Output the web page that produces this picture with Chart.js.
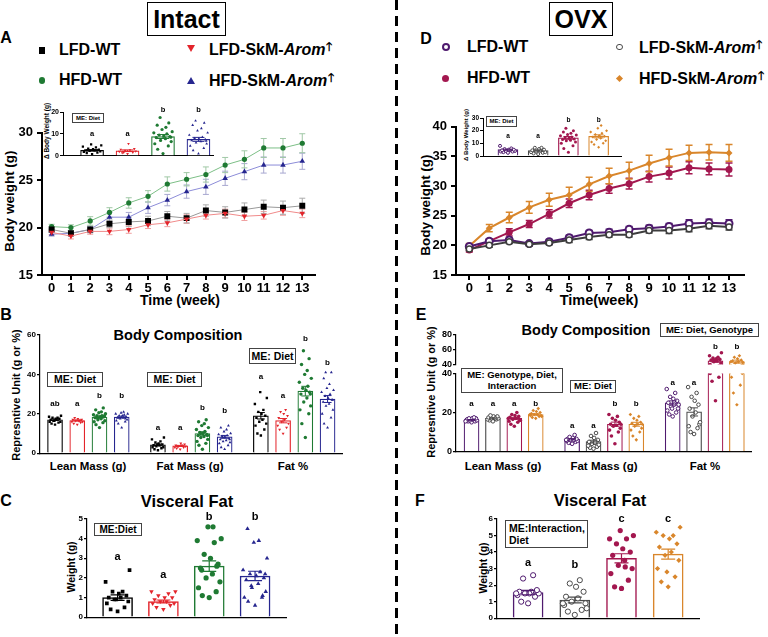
<!DOCTYPE html>
<html>
<head>
<meta charset="utf-8">
<script src="https://cdn.jsdelivr.net/npm/chart.js@4.4.1/dist/chart.umd.min.js"></script>
<style>
body{margin:0;width:768px;height:637px;position:relative;background:#fff;overflow:hidden;
  font-family:Arial,"Liberation Sans",sans-serif;font-weight:bold;color:#000}
.c{position:absolute;transform:translate(-50%,-50%);white-space:nowrap}
.r{position:absolute;transform:translate(-50%,-50%) rotate(-90deg);white-space:nowrap}
.l{position:absolute;transform:translateY(-50%);white-space:nowrap}
.box{position:absolute;border:1px solid #444;box-sizing:border-box;display:flex;align-items:center;justify-content:center;white-space:nowrap;background:#fff;line-height:1.15}
.m{position:absolute;box-sizing:border-box}
.up{font-family:"DejaVu Sans",sans-serif;font-size:0.72em;vertical-align:0.4em;margin-left:1px}
canvas{position:absolute}
</style>
</head>
<body>
<!-- titoli -->
<div class="box" style="left:147px;top:2px;width:79px;height:34px;border:1.5px solid #000;font-size:25px">Intact</div>
<div class="box" style="left:549px;top:2px;width:64px;height:34px;border:1.5px solid #000;font-size:25px">OVX</div>
<div style="position:absolute;left:395px;top:0;width:2.5px;height:637px;background:repeating-linear-gradient(to bottom,#000 0 10px,transparent 10px 16px)"></div>

<!-- lettere dei pannelli -->
<div class="c" style="left:6px;top:38px;font-size:16px">A</div>
<div class="c" style="left:6px;top:315px;font-size:16px">B</div>
<div class="c" style="left:6px;top:501px;font-size:16px">C</div>
<div class="c" style="left:426px;top:39px;font-size:16px">D</div>
<div class="c" style="left:421px;top:315px;font-size:16px">E</div>
<div class="c" style="left:420px;top:501px;font-size:16px">F</div>

<!-- legenda Intact -->
<div class="m" style="left:38.5px;top:47px;width:6.5px;height:6.5px;background:#000"></div>
<div class="m" style="left:38.5px;top:77px;width:6.5px;height:6.5px;border-radius:50%;background:#1f7a33"></div>
<div class="m" style="left:187px;top:45px;width:0;height:0;border-left:4px solid transparent;border-right:4px solid transparent;border-top:7px solid #e3242b"></div>
<div class="m" style="left:187px;top:76.5px;width:0;height:0;border-left:4px solid transparent;border-right:4px solid transparent;border-bottom:7px solid #26268f"></div>
<div class="l" style="left:59px;top:50px;font-size:16px">LFD-WT</div>
<div class="l" style="left:59px;top:80px;font-size:16px">HFD-WT</div>
<div class="l" style="left:209px;top:49px;font-size:16px">LFD-SkM-<i>Arom</i><span class="up">🡑</span></div>
<div class="l" style="left:209px;top:80px;font-size:16px">HFD-SkM-<i>Arom</i><span class="up">🡑</span></div>

<!-- legenda OVX -->
<div class="m" style="left:441.5px;top:42.5px;width:8.5px;height:8.5px;border-radius:50%;border:2px solid #4f1a6e"></div>
<div class="m" style="left:442px;top:74.5px;width:7px;height:7px;border-radius:50%;background:#a3174f"></div>
<div class="m" style="left:616px;top:43.7px;width:6.5px;height:6.5px;border-radius:50%;border:1.5px solid #4a4a4a"></div>
<div class="m" style="left:616.5px;top:75.5px;width:5px;height:5px;background:#d9862b;transform:rotate(45deg)"></div>
<div class="l" style="left:467px;top:47px;font-size:16px">LFD-WT</div>
<div class="l" style="left:467px;top:78px;font-size:16px">HFD-WT</div>
<div class="l" style="left:639px;top:47px;font-size:16px">LFD-SkM-<i>Arom</i><span class="up">🡑</span></div>
<div class="l" style="left:639px;top:78px;font-size:16px">HFD-SkM-<i>Arom</i><span class="up">🡑</span></div>

<!-- titoli assi e pannelli -->
<div class="r" style="left:9px;top:201px;font-size:13.5px">Body weight (g)</div>
<div class="c" style="left:180px;top:300px;font-size:14px">Time (week)</div>
<div class="r" style="left:46px;top:131px;font-size:6.5px">Δ Body Weight (g)</div>
<div class="box" style="left:72px;top:113px;width:32px;height:10px;font-size:6px">ME: Diet</div>

<div class="r" style="left:425px;top:205px;font-size:13.5px">Body weight (g)</div>
<div class="c" style="left:599px;top:300px;font-size:14.5px">Time(week)</div>
<div class="r" style="left:466px;top:135px;font-size:6px">Δ Body Weight (g)</div>
<div class="box" style="left:486px;top:116px;width:31px;height:11px;font-size:6px">ME: Diet</div>

<div class="c" style="left:178px;top:335px;font-size:14.5px">Body Composition</div>
<div class="r" style="left:16px;top:395px;font-size:11px">Represntive Unit (g or %)</div>
<div class="box" style="left:47px;top:372px;width:56px;height:15px;font-size:10.5px">ME: Diet</div>
<div class="box" style="left:147px;top:372px;width:55px;height:15px;font-size:10.5px">ME: Diet</div>
<div class="box" style="left:249px;top:348px;width:47px;height:16px;font-size:10.5px">ME: Diet</div>
<div class="c" style="left:88px;top:466px;font-size:11.5px">Lean Mass (g)</div>
<div class="c" style="left:190px;top:466px;font-size:11.5px">Fat Mass (g)</div>
<div class="c" style="left:293px;top:466px;font-size:11.5px">Fat %</div>

<div class="c" style="left:187px;top:501px;font-size:16.5px">Visceral Fat</div>
<div class="r" style="left:71px;top:567px;font-size:10.5px">Weight (g)</div>
<div class="box" style="left:94px;top:523px;width:48px;height:13px;font-size:10px">ME:Diet</div>

<div class="c" style="left:586px;top:330px;font-size:14.5px">Body Composition</div>
<div class="r" style="left:431px;top:392px;font-size:11px">Represntive Unit (g or %)</div>
<div class="box" style="left:461px;top:368px;width:102px;height:25px;font-size:9.5px;text-align:center">ME: Genotype, Diet,<br>Interaction</div>
<div class="box" style="left:570px;top:380px;width:46px;height:13px;font-size:9.5px">ME: Diet</div>
<div class="box" style="left:660px;top:323px;width:99px;height:14px;font-size:9.5px">ME: Diet, Genotype</div>
<div class="c" style="left:503px;top:466px;font-size:11.5px">Lean Mass (g)</div>
<div class="c" style="left:604px;top:466px;font-size:11.5px">Fat Mass (g)</div>
<div class="c" style="left:705px;top:466px;font-size:11.5px">Fat %</div>

<div class="c" style="left:600px;top:500px;font-size:16.5px">Visceral Fat</div>
<div class="r" style="left:483px;top:568px;font-size:10.5px">Weight (g)</div>
<div class="box" style="left:505px;top:520px;width:83px;height:28px;font-size:10.5px;justify-content:flex-start;padding-left:3px">ME:Interaction,<br>Diet</div>

<script>
const FONT = 'Arial, "Liberation Sans", sans-serif';

// settimane
const weeks = [0, 1, 2, 3, 4, 5, 6, 7, 8, 9, 10, 11, 12, 13];

// A - Intact, peso corporeo (g) e SEM
const intLfdWt      = [19.8, 19.4, 19.8, 20.4, 20.6, 20.7, 21.2, 21.0, 21.8, 21.6, 21.9, 22.2, 22.1, 22.3];
const intLfdArom    = [19.5, 19.1, 19.6, 19.6, 19.8, 20.3, 20.5, 20.9, 21.3, 21.5, 21.2, 21.3, 21.8, 21.5];
const intHfdWt      = [20.1, 20.0, 20.7, 21.6, 22.6, 23.3, 24.6, 25.1, 25.6, 26.6, 27.2, 28.4, 28.4, 28.9];
const intHfdArom    = [19.3, 19.4, 19.8, 21.1, 21.1, 22.1, 22.9, 23.8, 24.3, 25.2, 25.9, 26.6, 26.6, 27.0];
const intLfdWtSem   = [0.3, 0.3, 0.35, 0.4, 0.5, 0.5, 0.5, 0.5, 0.6, 0.6, 0.7, 0.7, 0.7, 0.8];
const intLfdAromSem = [0.25, 0.3, 0.3, 0.35, 0.4, 0.4, 0.4, 0.45, 0.4, 0.45, 0.45, 0.4, 0.5, 0.45];
const intHfdWtSem   = [0.25, 0.3, 0.45, 0.5, 0.55, 0.6, 0.75, 0.7, 0.8, 0.8, 0.9, 1.0, 1.0, 1.0];
const intHfdAromSem = [0.2, 0.25, 0.3, 0.5, 0.5, 0.6, 0.6, 0.7, 0.8, 0.75, 0.85, 0.85, 0.85, 0.85];

// D - OVX, peso corporeo (g) e SEM
const ovxLfdWt      = [19.8, 20.7, 20.9, 20.3, 20.6, 21.3, 22.1, 22.2, 22.7, 22.9, 23.2, 23.7, 23.8, 23.7];
const ovxLfdArom    = [19.4, 20.0, 20.6, 20.2, 20.4, 20.9, 21.4, 21.8, 21.8, 22.5, 22.5, 22.8, 23.3, 23.1];
const ovxHfdWt      = [19.2, 20.7, 22.2, 23.6, 25.3, 27.1, 28.5, 29.6, 30.4, 31.6, 32.2, 33.1, 32.9, 32.8];
const ovxHfdArom    = [19.9, 22.9, 24.7, 26.4, 27.7, 28.5, 30.3, 31.7, 32.6, 33.8, 34.8, 35.6, 35.7, 35.6];
const ovxLfdWtSem   = [0.2, 0.3, 0.3, 0.3, 0.4, 0.4, 0.4, 0.5, 0.5, 0.5, 0.5, 0.6, 0.6, 0.6];
const ovxLfdAromSem = [0.3, 0.3, 0.3, 0.3, 0.3, 0.4, 0.4, 0.4, 0.4, 0.4, 0.5, 0.5, 0.5, 0.5];
const ovxHfdWtSem   = [0.3, 0.4, 0.6, 0.6, 0.7, 0.7, 0.8, 0.8, 0.9, 0.9, 1.0, 1.0, 1.0, 1.1];
const ovxHfdAromSem = [0.4, 0.6, 0.9, 1.0, 1.1, 1.3, 1.2, 1.3, 1.4, 1.4, 1.4, 1.3, 1.3, 1.4];

// gruppi: LFD-WT, LFD-SkM-Arom, HFD-WT, HFD-SkM-Arom
// inserto A - delta peso (g)
const aDeltaMeans = [2.5, 2.3, 8.8, 7.5];
const aDelta = [
  [0.8, 1.2, 1.5, 1.8, 2.0, 2.2, 2.5, 2.5, 2.8, 3.0, 3.3, 3.8, 4.2, 4.8, 5.2],
  [0.9, 1.3, 1.6, 1.9, 2.1, 2.4, 2.6, 2.9, 3.2, 5.5, 1.5],
  [1.0, 3.0, 4.5, 5.5, 6.5, 7.0, 7.8, 8.3, 8.8, 9.0, 9.5, 10.0, 10.5, 11.0, 12.0, 13.0, 14.0, 15.0, 17.5, 8.5],
  [1.0, 2.5, 3.5, 4.5, 5.5, 6.0, 6.5, 7.0, 7.5, 7.5, 8.0, 8.5, 9.5, 10.5, 11.5, 12.5, 14.0, 15.0, 16.0, 6.8]
];
const aDeltaLetters = ['a', 'a', 'b', 'b'];
const aDeltaLetterY = [10, 10, 21, 21];

// inserto D - delta peso (g)
const dDeltaMeans = [5.0, 4.3, 14.3, 15.5];
const dDelta = [
  [2.5, 3, 3.5, 3.5, 4, 4, 4.5, 4.5, 5, 5, 5.5, 6, 8],
  [1.5, 2, 2.5, 3, 3, 3.5, 4, 4.5, 5, 5.5, 6.5, 6.5],
  [3, 6, 8, 10, 11, 12, 12.5, 13, 13.5, 14, 14.5, 15, 16, 16.5, 17, 18, 19, 20, 22],
  [7, 9, 10, 11, 12, 13, 14, 15, 15.5, 16, 17, 18, 19, 20, 22, 24]
];
const dDeltaLetters = ['a', 'a', 'b', 'b'];
const dDeltaLetterY = [15.4, 15.4, 28, 28];

// B - composizione corporea Intact
const bCategories = ['Lean Mass (g)', 'Fat Mass (g)', 'Fat %'];
const bMeans = [[17.0, 16.6, 18.3, 18.3], [4.2, 3.7, 10.0, 8.3], [19.0, 16.5, 31.5, 27.5]];
const bLean = [
  [14.5, 15, 15.5, 16, 16, 16.5, 17, 17, 17.5, 17.5, 18, 18, 18.5, 19, 16.5],
  [14.5, 15, 15.5, 16, 16, 16.5, 16.5, 17, 17, 17.5, 18, 16.5],
  [13, 14.5, 15.5, 16, 16.5, 17, 17.5, 18, 18.5, 18.5, 19, 19, 19.5, 20, 20.5, 21, 22, 23, 18, 19],
  [13, 15, 16, 16.5, 17, 17.5, 18, 18, 18.5, 19, 19, 19.5, 20, 20, 20.5, 21, 18, 17.5]
];
const bFatMass = [
  [1.5, 2, 2.5, 3, 3, 3.5, 4, 4, 4.5, 5, 5.5, 6, 7, 8, 4.5],
  [2, 2.5, 3, 3, 3.5, 3.5, 4, 4, 4.5, 5, 3.5],
  [2, 4, 5, 6, 7, 8, 8.5, 9, 9.5, 10, 10.5, 11, 12, 13, 14, 15, 16, 17, 10, 9],
  [2, 3, 4, 5, 5.5, 6, 6.5, 7, 7.5, 8, 8.5, 9, 9.5, 10, 11, 12, 13, 14, 8, 7]
];
const bFatPct = [
  [9, 10, 12, 14, 15, 16, 17, 18, 19, 20, 21, 22, 25, 28, 31],
  [10, 12, 13, 14, 15, 16, 17, 18, 19, 20, 21, 22],
  [8, 15, 20, 22, 24, 26, 28, 30, 31, 32, 33, 34, 36, 38, 40, 42, 45, 48, 52, 30],
  [13, 15, 18, 20, 22, 24, 25, 26, 27, 28, 29, 30, 31, 32, 33, 35, 38, 41, 41, 27]
];
const bLetters = [['ab', 'a', 'b', 'b'], ['a', 'a', 'b', 'b'], ['a', 'a', 'b', 'b']];
const bLetterY = [[25.3, 25.3, 29, 29], [12.8, 12.8, 22.8, 21.5], [38.7, 29.2, 58.3, 45.8]];

// C - grasso viscerale Intact (g)
const cMeans = [[1.0, 0.8, 2.6, 2.1]];
const cVisceral = [
  [0.3, 0.4, 0.5, 0.7, 0.8, 0.9, 1.0, 1.0, 1.1, 1.2, 1.3, 1.3, 1.8, 2.4, 0.9],
  [0.4, 0.5, 0.6, 0.7, 0.7, 0.8, 0.8, 0.9, 1.0, 1.0, 1.1, 1.2, 1.3, 1.3],
  [1.0, 1.1, 1.3, 1.5, 1.8, 2.0, 2.2, 2.5, 2.7, 3.0, 3.2, 3.8, 3.9, 4.0, 4.6, 4.6, 2.4, 2.6],
  [0.6, 0.8, 1.0, 1.0, 1.3, 1.5, 1.7, 1.9, 2.0, 2.1, 2.2, 2.3, 2.4, 3.0, 3.8, 3.9, 4.5, 1.1, 1.6, 2.2]
];
const cLetters = [['a', 'a', 'b', 'b']];
const cLetterY = [[3.05, 2.13, 5.1, 5.1]];

// E - composizione corporea OVX
const eMeans = [[16.2, 17.0, 17.0, 19.0], [6.3, 5.1, 14.0, 14.0], [24.9, 20.3, 45.0, 44.0]];
const eLean = [
  [15, 15.5, 15.5, 16, 16, 16, 16.5, 16.5, 17, 17, 17, 17.5, 15.5],
  [15.5, 16, 16.5, 16.5, 17, 17, 17.5, 17.5, 18, 18, 18.5, 17],
  [13, 14, 15, 15.5, 16, 16.5, 17, 17.5, 18, 18.5, 19, 20, 17, 16],
  [17, 17.5, 18, 18.5, 18.5, 19, 19, 19.5, 20, 20.5, 21, 22, 19, 18]
];
const eFatMass = [
  [4, 4.5, 5, 5.5, 5.5, 6, 6, 6.5, 6.5, 7, 7.5, 8.5, 6],
  [1.5, 2, 2.5, 3, 3.5, 4, 4.5, 5, 6, 7, 8, 9.5],
  [4, 8, 10, 11, 12, 13, 13.5, 14, 15, 16, 17, 18, 19, 14],
  [6, 8, 10, 11, 12, 13, 14, 14.5, 15, 16, 17, 18, 19, 14]
];
const eFatPct = [
  [18, 19, 20, 21, 22, 23, 24, 25, 26, 27, 28, 30, 32, 24, 22],
  [9, 10, 12, 13, 14, 18, 20, 22, 24, 26, 28, 30, 33, 15],
  [26, 36, 38, 40, 42, 44, 45, 46, 47, 48, 49, 50, 52, 56, 46],
  [24, 30, 34, 38, 40, 42, 44, 45, 46, 48, 50, 52, 44, 43]
];
const eLetters = [['a', 'a', 'a', 'b'], ['a', 'a', 'b', 'b'], ['a', 'a', 'b', 'b']];
const eLetterY = [[24.3, 24.3, 24.3, 24.3], [13.3, 13.3, 24.3, 24.3], [35.4, 35.4, 64.4, 64.4]];

// F - grasso viscerale OVX (g)
const fMeans = [[1.55, 1.1, 3.62, 3.88]];
const fVisceral = [
  [0.9, 1.0, 1.3, 1.4, 1.5, 1.5, 1.6, 1.6, 1.7, 1.5, 2.4, 2.6, 1.5],
  [0.2, 0.4, 0.5, 0.8, 0.9, 1.0, 1.2, 1.3, 1.6, 1.9, 2.1, 2.3, 0.9, 0.6],
  [1.8, 1.9, 2.3, 2.7, 3.0, 3.2, 3.5, 3.8, 4.0, 4.2, 4.5, 4.8, 4.8, 5.0, 5.3, 3.1],
  [1.9, 2.2, 2.5, 3.0, 3.5, 3.8, 4.0, 4.3, 4.5, 4.8, 5.0, 5.0, 5.2, 5.5, 2.8]
];
const fLetters = [['a', 'b', 'c', 'c']];
const fLetterY = [[3.34, 3.22, 6.02, 6.02]];

// colori e simboli
const colInt = ['#000000', '#e3242b', '#1f7a33', '#26268f'];
const colOvx = ['#4f1a6e', '#4a4a4a', '#a3174f', '#d9862b'];
const symInt = [{s: 'rect', rot: 0}, {s: 'triangle', rot: 180}, {s: 'circle', rot: 0}, {s: 'triangle', rot: 0}];
const symOvx = [{s: 'circle', rot: 0, open: true}, {s: 'circle', rot: 0, open: true}, {s: 'circle', rot: 0}, {s: 'rectRot', rot: 0}];
// sparpaglio orizzontale dei punti dentro la barra (frazione di mezza barra)
const SPREAD = [0, -0.55, 0.55, -0.85, 0.85, -0.25, 0.25, -0.7, 0.7, 0.1, -0.4, 0.4, -0.95, 0.95, -0.1, 0.3, -0.6, 0.6, -0.3, 0.8];

function sem(a) {
  const m = a.reduce((s, v) => s + v, 0) / a.length;
  const sd = Math.sqrt(a.reduce((s, v) => s + (v - m) * (v - m), 0) / (a.length - 1));
  return sd / Math.sqrt(a.length);
}

// barre di errore disegnate con le scale del grafico
const errBars = {
  id: 'errBars',
  beforeDatasetsDraw(chart, args, opts) { if (opts.under) drawErr(chart, opts); },
  afterDatasetsDraw(chart, args, opts) { if (!opts.under) drawErr(chart, opts); }
};
function drawErr(chart, opts) {
  const ctx = chart.ctx, ca = chart.chartArea, ys = chart.scales.y;
  ctx.save();
  ctx.beginPath();
  ctx.rect(ca.left, ca.top, ca.right - ca.left, ca.bottom - ca.top);
  ctx.clip();
  chart.data.datasets.forEach((ds, i) => {
    if (!ds.sem) return;
    const meta = chart.getDatasetMeta(i);
    ctx.strokeStyle = ds.errColor;
    ctx.lineWidth = opts.width || 1;
    meta.data.forEach((el, j) => {
      const v = ds.data[j].y, s = ds.sem[j], cap = opts.cap;
      const y1 = ys.getPixelForValue(v - s), y2 = ys.getPixelForValue(v + s);
      ctx.beginPath();
      ctx.moveTo(el.x, y1); ctx.lineTo(el.x, y2);
      ctx.moveTo(el.x - cap, y1); ctx.lineTo(el.x + cap, y1);
      ctx.moveTo(el.x - cap, y2); ctx.lineTo(el.x + cap, y2);
      ctx.stroke();
    });
  });
  ctx.restore();
}

// lettere di significatività sopra le barre
const letterPlug = {
  id: 'letters',
  afterDraw(chart, args, opts) {
    if (!opts.items) return;
    const ctx = chart.ctx;
    ctx.save();
    ctx.fillStyle = '#000';
    ctx.font = 'bold ' + opts.size + 'px ' + FONT;
    ctx.textAlign = 'center';
    ctx.textBaseline = 'middle';
    opts.items.forEach(it => {
      ctx.fillText(it.t, chart.scales.x.getPixelForValue(it.x), chart.scales.y.getPixelForValue(it.y));
    });
    ctx.restore();
  }
};

// canvas posizionato: rect = area del grafico [l,t,r,b], pad = spazio per assi [l,t,r,b]
function makeCanvas(rect, pad) {
  const cv = document.createElement('canvas');
  const left = Math.round(rect[0] - pad[0]), top = Math.round(rect[1] - pad[1]);
  cv.width = Math.round(rect[2] + pad[2]) - left;
  cv.height = Math.round(rect[3] + pad[3]) - top;
  cv.style.left = left + 'px';
  cv.style.top = top + 'px';
  document.body.appendChild(cv);
  return cv;
}

function yAxis(o) {
  return {
    type: 'linear', min: o.yMin, max: o.yMax,
    afterFit: s => { s.width = o.pad[0]; },
    grid: {display: true, drawOnChartArea: false, drawTicks: true, tickLength: o.tl, color: '#000', lineWidth: o.aw},
    border: {display: true, color: '#000', width: o.aw},
    ticks: {stepSize: o.yStep, includeBounds: false, autoSkip: false, maxTicksLimit: 30, color: '#000', padding: o.tp,
      font: {family: FONT, weight: 'bold', size: o.yFont}}
  };
}

function baseOptions(o, xScale) {
  return {
    responsive: false, animation: false, events: [],
    layout: {padding: {left: 0, top: o.pad[1], right: o.pad[2], bottom: 0}},
    plugins: {legend: {display: false}, tooltip: {enabled: false},
      errBars: o.err, letters: {items: o.letterItems, size: o.letterSize}},
    scales: {x: xScale, y: yAxis(o)}
  };
}

// grafico a linee del peso corporeo
function lineChart(o) {
  const cv = makeCanvas(o.rect, o.pad);
  const datasets = o.series.map(s => ({
    type: 'line',
    data: weeks.map((w, i) => ({x: w, y: s.v[i]})),
    sem: s.sem, errColor: s.err,
    borderColor: s.line, borderWidth: o.lw, tension: 0,
    pointStyle: s.sym, pointRotation: s.rot || 0, pointRadius: s.r,
    pointBackgroundColor: s.fill, pointBorderColor: s.col, pointBorderWidth: s.bw
  }));
  const xScale = {
    type: 'linear', min: o.xMin, max: o.xMax, offset: false,
    afterFit: s => { s.height = o.pad[3]; },
    grid: {display: true, drawOnChartArea: false, drawTicks: true, tickLength: o.tl, color: '#000', lineWidth: o.aw},
    border: {display: true, color: '#000', width: o.aw},
    ticks: {stepSize: 1, includeBounds: false, autoSkip: false, maxRotation: 0, maxTicksLimit: 30, padding: 1, color: '#000',
      font: {family: FONT, weight: 'bold', size: o.xFont}}
  };
  new Chart(cv, {type: 'line', data: {datasets}, options: baseOptions(o, xScale), plugins: [errBars, letterPlug]});
}

// grafico a barre con punti individuali
function barChart(o) {
  const cv = makeCanvas(o.rect, o.pad);
  const pxPerUnit = (o.rect[2] - o.rect[0]) / (o.xMax - o.xMin);
  const spread = o.bar * 0.42 / pxPerUnit;
  const datasets = [];
  o.colors.forEach((col, g) => {
    datasets.push({
      type: 'bar', order: 2, grouped: false, clip: o.clip,
      data: o.pts.map((cat, c) => ({x: o.slot(c, g), y: o.means[c][g]})),
      sem: o.pts.map(cat => sem(cat[g])), errColor: col,
      backgroundColor: '#fff', borderColor: col, borderWidth: o.bw, barThickness: o.bar
    });
    const pd = [];
    o.pts.forEach((cat, c) => cat[g].forEach((v, k) => pd.push({x: o.slot(c, g) + SPREAD[k % SPREAD.length] * spread, y: v})));
    const sym = o.syms[g];
    datasets.push({
      type: 'scatter', order: 1, clip: o.clip, data: pd,
      pointStyle: sym.s, pointRotation: sym.rot, pointRadius: o.r,
      pointBackgroundColor: sym.open ? '#fff' : col, pointBorderColor: col, pointBorderWidth: sym.open ? 1 : 0
    });
  });
  o.letterItems = [];
  o.letters.forEach((row, c) => row.forEach((t, g) => {
    const y = o.letterY[c][g];
    if (y >= o.yMin && y <= o.yMax * 1.15) o.letterItems.push({x: o.slot(c, g), y: y, t: t});
  }));
  const xScale = {
    type: 'linear', min: o.xMin, max: o.xMax, offset: false,
    afterFit: s => { s.height = o.pad[3]; },
    grid: {display: false},
    border: {display: !o.noX, color: '#000', width: o.aw},
    ticks: {display: false}
  };
  new Chart(cv, {type: 'bar', data: {datasets}, options: baseOptions(o, xScale), plugins: [errBars, letterPlug]});
}

// A - Intact
lineChart({
  rect: [42, 131, 315, 275], pad: [34, 10, 14, 22],
  yMin: 15, yMax: 30, yStep: 5, xMin: -0.5, xMax: 13.66,
  yFont: 13, xFont: 13, tl: 5, tp: 4, aw: 2, lw: 1,
  err: {under: true, cap: 3, width: 1},
  series: [
    {v: intLfdArom, sem: intLfdAromSem, col: colInt[1], fill: colInt[1], line: '#f08a8a', err: '#f0a0a0', sym: 'triangle', rot: 180, r: 3.2, bw: 0},
    {v: intLfdWt, sem: intLfdWtSem, col: colInt[0], fill: colInt[0], line: '#999999', err: '#aaaaaa', sym: 'rect', r: 4.2, bw: 0},
    {v: intHfdArom, sem: intHfdAromSem, col: colInt[3], fill: colInt[3], line: '#8c8cd8', err: '#a8a8d0', sym: 'triangle', r: 3.2, bw: 0},
    {v: intHfdWt, sem: intHfdWtSem, col: colInt[2], fill: colInt[2], line: '#7cbf86', err: '#a0c8a6', sym: 'circle', r: 2.6, bw: 0}
  ]
});

barChart({
  rect: [63, 112, 213, 157], pad: [14, 10, 4, 4],
  yMin: 0, yMax: 20, yStep: 10, xMin: -0.82, xMax: 3.41,
  yFont: 7, tl: 3, tp: 1, aw: 1, bw: 1.2, bar: 23, r: 1.6,
  err: {under: false, cap: 6, width: 1},
  slot: (c, g) => g, colors: colInt, syms: symInt,
  means: [aDeltaMeans], pts: [aDelta], letters: [aDeltaLetters], letterY: [aDeltaLetterY], letterSize: 7.5
});

// D - OVX
lineChart({
  rect: [456, 125, 744, 275], pad: [36, 10, 14, 22],
  yMin: 15, yMax: 40, yStep: 5, xMin: -0.665, xMax: 13.75,
  yFont: 13, xFont: 13, tl: 5, tp: 4, aw: 2, lw: 2,
  err: {under: true, cap: 3.5, width: 1.5},
  series: [
    {v: ovxLfdArom, sem: ovxLfdAromSem, col: '#3d3d3d', fill: '#fff', line: '#3d3d3d', err: '#3d3d3d', sym: 'circle', r: 3, bw: 1.5},
    {v: ovxLfdWt, sem: ovxLfdWtSem, col: colOvx[0], fill: '#fff', line: colOvx[0], err: colOvx[0], sym: 'circle', r: 3.5, bw: 2},
    {v: ovxHfdWt, sem: ovxHfdWtSem, col: colOvx[2], fill: colOvx[2], line: colOvx[2], err: colOvx[2], sym: 'circle', r: 3.5, bw: 0},
    {v: ovxHfdArom, sem: ovxHfdAromSem, col: colOvx[3], fill: colOvx[3], line: colOvx[3], err: colOvx[3], sym: 'rectRot', r: 3.5, bw: 0}
  ]
});

barChart({
  rect: [483, 118, 622, 157], pad: [14, 8, 4, 4],
  yMin: 0, yMax: 30, yStep: 10, xMin: -0.825, xMax: 3.74,
  yFont: 6.5, tl: 3, tp: 1, aw: 1, bw: 1.2, bar: 20, r: 1.5,
  err: {under: false, cap: 5, width: 1},
  slot: (c, g) => g, colors: colOvx, syms: symOvx,
  means: [dDeltaMeans], pts: [dDelta], letters: [dDeltaLetters], letterY: [dDeltaLetterY], letterSize: 6.5
});

// B - composizione Intact
barChart({
  rect: [40, 335, 342, 455], pad: [14, 8, 4, 4],
  yMin: 0, yMax: 60, yStep: 20, xMin: -0.676, xMax: 12.91,
  yFont: 8, tl: 3, tp: 1, aw: 1.2, bw: 1.2, bar: 15, r: 1.7,
  err: {under: false, cap: 4, width: 1},
  slot: (c, g) => c * 4.63 + g, colors: colInt, syms: symInt,
  means: bMeans, pts: [bLean, bFatMass, bFatPct], letters: bLetters, letterY: bLetterY, letterSize: 8
});

// C - grasso viscerale Intact
barChart({
  rect: [87, 519, 286, 619], pad: [14, 10, 4, 4],
  yMin: 0, yMax: 5, yStep: 1, xMin: -0.667, xMax: 3.675,
  yFont: 8, tl: 3, tp: 1, aw: 1.2, bw: 1.5, bar: 30, r: 2.6,
  err: {under: false, cap: 7, width: 1.2},
  slot: (c, g) => g, colors: colInt, syms: symInt,
  means: cMeans, pts: [cVisceral], letters: cLetters, letterY: cLetterY, letterSize: 11
});

// E - composizione OVX, asse interrotto: parte bassa e parte alta
const ePts = [eLean, eFatMass, eFatPct];
barChart({
  rect: [456, 373, 752, 454], pad: [16, 6, 4, 4],
  yMin: 0, yMax: 40, yStep: 20, xMin: -0.726, xMax: 13.06, clip: 0,
  yFont: 9, tl: 3, tp: 1, aw: 1.2, bw: 1.2, bar: 15, r: 1.8,
  err: {under: false, cap: 4, width: 1},
  slot: (c, g) => c * 4.7 + g, colors: colOvx, syms: symOvx,
  means: eMeans, pts: ePts, letters: eLetters, letterY: eLetterY, letterSize: 8
});
barChart({
  rect: [456, 335, 752, 365], pad: [16, 8, 4, 6], noX: true,
  yMin: 40, yMax: 80, yStep: 20, xMin: -0.726, xMax: 13.06, clip: 0,
  yFont: 9, tl: 3, tp: 1, aw: 1.2, bw: 1.2, bar: 15, r: 1.8,
  err: {under: false, cap: 4, width: 1},
  slot: (c, g) => c * 4.7 + g, colors: colOvx, syms: symOvx,
  means: eMeans, pts: ePts, letters: eLetters, letterY: eLetterY, letterSize: 8
});

// F - grasso viscerale OVX
barChart({
  rect: [497, 519, 700, 620], pad: [14, 10, 4, 4],
  yMin: 0, yMax: 6, yStep: 1, xMin: -0.666, xMax: 3.66,
  yFont: 8, tl: 3, tp: 1, aw: 1.2, bw: 1.5, bar: 30, r: 2.6,
  err: {under: false, cap: 7, width: 1.2},
  slot: (c, g) => g, colors: colOvx, syms: symOvx,
  means: fMeans, pts: [fVisceral], letters: fLetters, letterY: fLetterY, letterSize: 11
});
</script>
</body>
</html>
